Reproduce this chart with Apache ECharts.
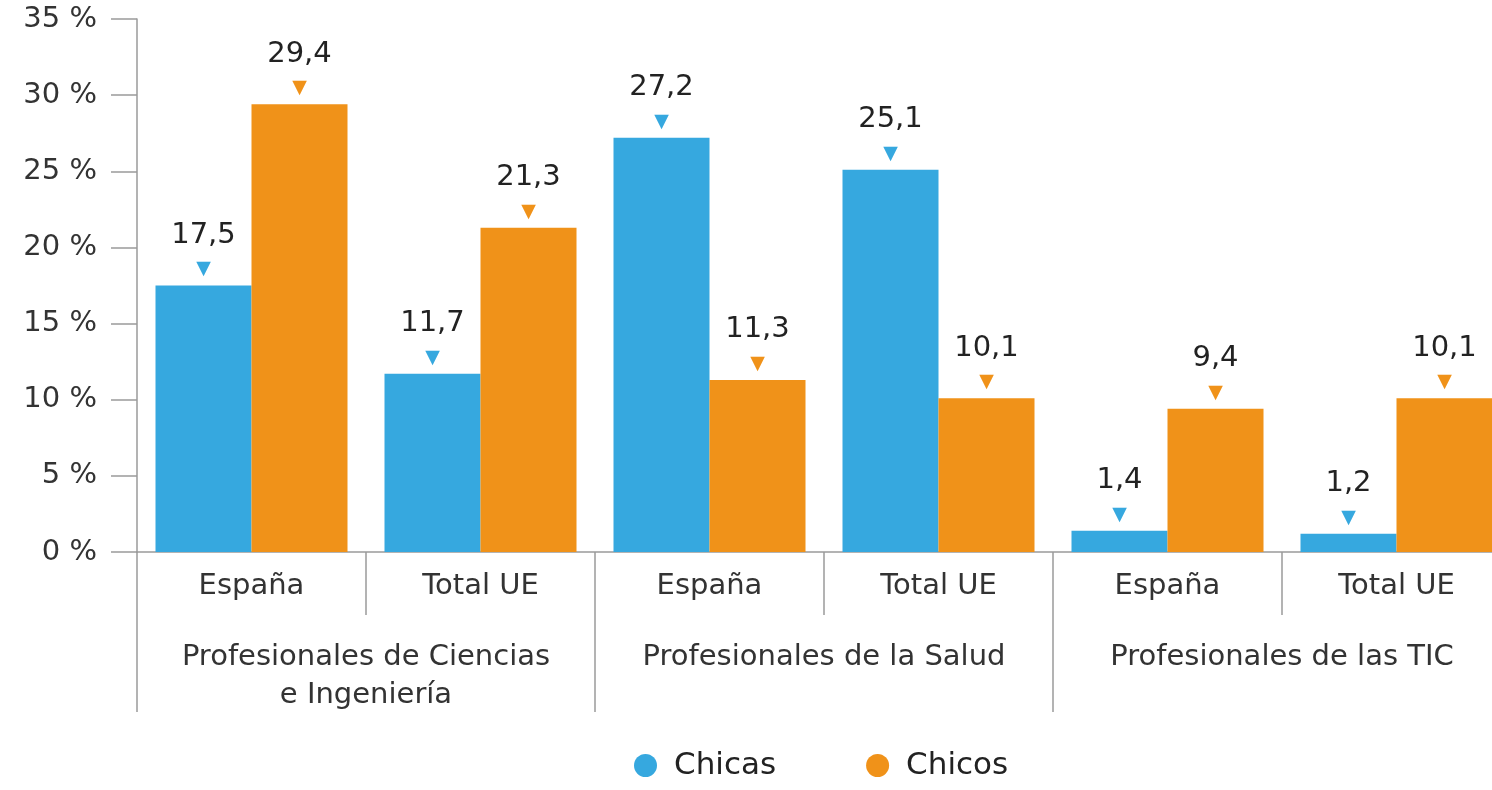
<!DOCTYPE html>
<html>
<head>
<meta charset="utf-8">
<script src="https://cdn.jsdelivr.net/npm/echarts@6/dist/echarts.min.js"></script>
<style>
  html, body { margin: 0; padding: 0; background: #fff; }
  #chart { width: 1492px; height: 790px; }
</style>
</head>
<body>
<div id="chart"></div>
<script>
// datos
var categorias = ["España", "Total UE", "España", "Total UE", "España", "Total UE"];
var grupos = ["Profesionales de Ciencias\ne Ingeniería", "Profesionales de la Salud", "Profesionales de las TIC"];
var chicas = [17.5, 11.7, 27.2, 25.1, 1.4, 1.2];
var chicos = [29.4, 21.3, 11.3, 10.1, 9.4, 10.1];

var azul = "#36a8df";
var naranja = "#f09219";
var fuente = "DejaVu Sans";
var gris = "#9a9a9a";
var tam = 29;

var myChart = echarts.init(document.getElementById("chart"));

function etiqueta(color) {
  return {
    show: true,
    position: "top",
    distance: 3,
    formatter: function (p) {
      return "{v|" + String(p.value).replace(".", ",") + "}\n{t|▼}";
    },
    rich: {
      v: { fontFamily: fuente, fontSize: tam, color: "#222", lineHeight: 42, align: "center" },
      t: { fontFamily: "DejaVu Sans", fontSize: 19, color: color, lineHeight: 26, align: "center" }
    }
  };
}

var option = {
  animation: false,
  textStyle: { fontFamily: fuente },
  grid: { left: 137, width: 1374, top: 19, bottom: 238, containLabel: false, outerBoundsMode: "none" },
  legend: {
    bottom: 4,
    left: 629,
    icon: "circle",
    itemWidth: 23,
    itemHeight: 23,
    itemGap: 90,
    textStyle: { fontFamily: fuente, fontSize: 31, color: "#222", padding: [0, 0, 0, 12] },
    data: ["Chicas", "Chicos"]
  },
  xAxis: [
    {
      type: "category",
      data: categorias,
      position: "bottom",
      axisLine: { show: true, lineStyle: { color: gris, width: 1.5 } },
      axisTick: { show: true, interval: 0, length: 63, lineStyle: { color: gris, width: 1.5 } },
      axisLabel: { interval: 0, margin: 18, fontSize: tam, color: "#333", fontFamily: fuente, lineHeight: 32 }
    },
    {
      type: "category",
      data: grupos,
      position: "bottom",
      axisLine: { show: false },
      axisTick: { show: true, interval: 0, length: 160, lineStyle: { color: gris, width: 1.5 } },
      axisLabel: { interval: 0, margin: 86, fontSize: tam, color: "#333", fontFamily: fuente, lineHeight: 38, verticalAlign: "top" }
    }
  ],
  yAxis: {
    type: "value",
    min: 0,
    max: 35,
    interval: 5,
    axisLine: { show: true, lineStyle: { color: gris, width: 1.5 } },
    axisTick: { show: true, length: 26, lineStyle: { color: gris, width: 1.5 } },
    splitLine: { show: false },
    axisLabel: {
      margin: 40,
      fontSize: tam,
      color: "#333",
      fontFamily: fuente,
      formatter: "{value} %"
    }
  },
  series: [
    {
      name: "Chicas",
      type: "bar",
      data: chicas,
      barWidth: 96,
      barGap: "0%",
      itemStyle: { color: azul },
      label: etiqueta(azul)
    },
    {
      name: "Chicos",
      type: "bar",
      data: chicos,
      barWidth: 96,
      barGap: "0%",
      itemStyle: { color: naranja },
      label: etiqueta(naranja)
    }
  ]
};

myChart.setOption(option);
</script>
</body>
</html>
